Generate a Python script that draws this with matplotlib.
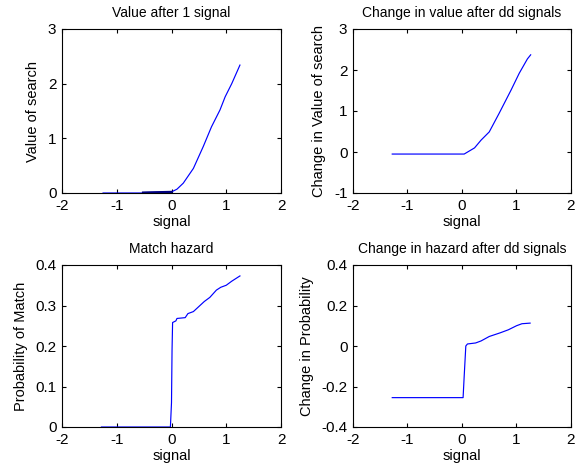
import matplotlib
matplotlib.use("Agg")
import matplotlib.pyplot as plt

plt.rcParams['font.family'] = ['Liberation Sans', 'DejaVu Sans']
plt.rcParams['font.size'] = 10

# Panel 1: Value after 1 signal
v1_x = [-1.25, -0.52, -0.52, 0.0, 0.1, 0.215, 0.40, 0.58, 0.73, 0.886, 0.98, 1.10, 1.25]
v1_y = [0.0, 0.0, 0.008, 0.02, 0.07, 0.18, 0.45, 0.85, 1.21, 1.52, 1.76, 2.0, 2.34]

# Panel 2: Change in value after dd signals
v2_x = [-1.28, 0.04, 0.23, 0.35, 0.5, 0.68, 0.9, 1.05, 1.2, 1.26]
v2_y = [-0.05, -0.05, 0.1, 0.29, 0.49, 0.94, 1.51, 1.92, 2.27, 2.37]

# Panel 3: Match hazard
h1_x = [-1.28, -0.02, 0.0, 0.01, 0.02, 0.08, 0.1, 0.25, 0.3, 0.4, 0.52, 0.6, 0.7, 0.82, 0.9, 1.0, 1.1, 1.25]
h1_y = [0.0, 0.0, 0.06, 0.19, 0.258, 0.262, 0.268, 0.27, 0.28, 0.285, 0.30, 0.31, 0.32, 0.338, 0.345, 0.35, 0.36, 0.373]

# Panel 4: Change in hazard after dd signals
h2_x = [-1.28, 0.02, 0.04, 0.07, 0.1, 0.25, 0.35, 0.5, 0.7, 0.85, 1.0, 1.1, 1.25]
h2_y = [-0.255, -0.255, -0.15, 0.0, 0.01, 0.015, 0.025, 0.047, 0.065, 0.08, 0.1, 0.11, 0.113]

panels = [
    dict(x=v1_x, y=v1_y, title="Value after 1 signal", ylabel="Value of search",
         ylim=(0, 3), yticks=[0, 1, 2, 3], yfmt=["0", "1", "2", "3"],
         pos=[62/577, 1-193/471, 219/577, 164/471]),
    dict(x=v2_x, y=v2_y, title="Change in value after dd signals", ylabel="Change in Value of search",
         ylim=(-1, 3), yticks=[-1, 0, 1, 2, 3], yfmt=["-1", "0", "1", "2", "3"],
         pos=[353/577, 1-193/471, 218/577, 164/471]),
    dict(x=h1_x, y=h1_y, title="Match hazard", ylabel="Probability of Match",
         ylim=(0, 0.4), yticks=[0, 0.1, 0.2, 0.3, 0.4], yfmt=["0", "0.1", "0.2", "0.3", "0.4"],
         pos=[62/577, 1-427/471, 219/577, 162/471]),
    dict(x=h2_x, y=h2_y, title="Change in hazard after dd signals", ylabel="Change in Probability",
         ylim=(-0.4, 0.4), yticks=[-0.4, -0.2, 0, 0.2, 0.4], yfmt=["-0.4", "-0.2", "0", "0.2", "0.4"],
         pos=[353/577, 1-427/471, 218/577, 162/471]),
]

xticks = [-2, -1, 0, 1, 2]
xfmt = ["-2", "-1", "0", "1", "2"]

fig = plt.figure(figsize=(5.77, 4.71), dpi=100)
for i, p in enumerate(panels):
    ax = fig.add_axes(p["pos"])
    ax.plot(p["x"], p["y"], color=(0, 0, 1), lw=0.85)
    if i == 0:
        ax.plot(p["x"][2:4], p["y"][2:4], color="#000080", lw=1.6)
    ax.set_xlim(-2, 2)
    ax.set_ylim(*p["ylim"])
    ax.set_xticks(xticks)
    ax.set_xticklabels(xfmt)
    ax.set_yticks(p["yticks"])
    ax.set_yticklabels(p["yfmt"])
    ax.tick_params(direction='in', top=True, right=True, length=3, labelsize=11)
    ax.tick_params(axis='x', pad=4)
    ax.tick_params(axis='y', pad=4)
    for s in ax.spines.values():
        s.set_linewidth(0.8)
    ax.set_title(p["title"], fontsize=10, pad=8.5)
    ax.set_xlabel("signal", fontsize=10.5, labelpad=2)
    ax.set_ylabel(p["ylabel"], fontsize=10.5, labelpad=5.5)

fig.savefig("out.png", dpi=100, facecolor="white")
